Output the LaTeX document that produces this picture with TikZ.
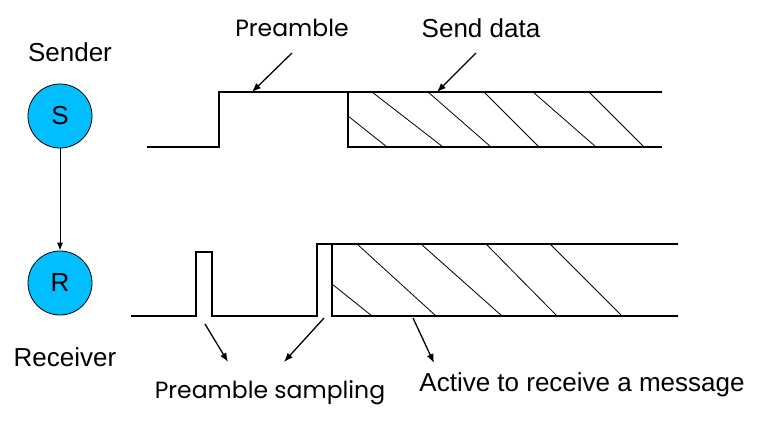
\documentclass[tikz,border=0pt]{standalone}
\usepackage{fontspec}
\setmainfont{Liberation Sans}
\newfontfamily\comicfont{Poppins}
\usetikzlibrary{arrows.meta}
\definecolor{nodeblue}{RGB}{0,190,255}
\tikzset{
  wave/.style={line width=1.6pt, line join=miter},
  hatch/.style={line width=0.8pt},
  pointer/.style={line width=1.3pt, -{Latex[length=9pt,width=7pt]}},
  station/.style={circle, draw=black, line width=0.8pt, fill=nodeblue, minimum size=64pt, inner sep=0pt, font=\fontsize{26}{30}\selectfont},
  arial/.style={font=\fontsize{26}{30}\selectfont, inner sep=0pt},
  comic/.style={font=\comicfont\fontsize{23.5}{28}\selectfont, inner sep=0pt},
}
\begin{document}
\begin{tikzpicture}[x=1pt,y=-1pt]
\useasboundingbox (0,0) rectangle (762,422);
% stations
\node[arial] (sender) at (70,52) {Sender};
\node[station] (S) at (60,116) {S};
\node[station] (R) at (60,283) {R};
\node[arial] (receiver) at (65,357) {Receiver};
\draw[line width=0.9pt, -{Latex[length=8pt,width=6pt]}] (S) -- (R);
% sender waveform
\draw[wave] (147,147) -- (219,147) -- (219,92) -- (662,92);
\draw[wave] (348,92) -- (348,147) -- (662,147);
\draw[hatch] (348,116) -- (387,147)
  (372,92) -- (443,147)
  (428,92) -- (491,147)
  (484,92) -- (539,147)
  (533,92) -- (596,147)
  (589,92) -- (644,147);
% receiver waveform
\draw[wave] (131,316) -- (196,316) -- (196,252) -- (212,252) -- (212,316) -- (317,316) -- (317,244) -- (678,244);
\draw[wave] (332,244) -- (332,316) -- (678,316);
\draw[hatch] (332,284) -- (372,316)
  (357,244) -- (436,316)
  (421,244) -- (502,316)
  (486,244) -- (557,316)
  (550,244) -- (622,316);
% labels
\node[comic] (preamble) at (292,28) {Preamble};
\node[arial] (senddata) at (481,28) {Send data};
\node[comic] (sampling) at (270,393) {Preamble sampling};
\node[arial] (active) at (582,385) {Active to receive a message};
% arrow ends
\coordinate (pa1) at (292,53);
\coordinate (pa2) at (252,92);
\coordinate (sd1) at (476,53);
\coordinate (sd2) at (437,92);
\coordinate (ps1) at (205,324);
\coordinate (ps2) at (228,362);
\coordinate (pt1) at (324,318);
\coordinate (pt2) at (284,362);
\coordinate (ac1) at (413,318);
\coordinate (ac2) at (434,363);
\draw[pointer] (pa1) -- (pa2);
\draw[pointer] (sd1) -- (sd2);
\draw[pointer] (ps1) -- (ps2);
\draw[pointer] (pt1) -- (pt2);
\draw[pointer] (ac1) -- (ac2);
\end{tikzpicture}
\end{document}
